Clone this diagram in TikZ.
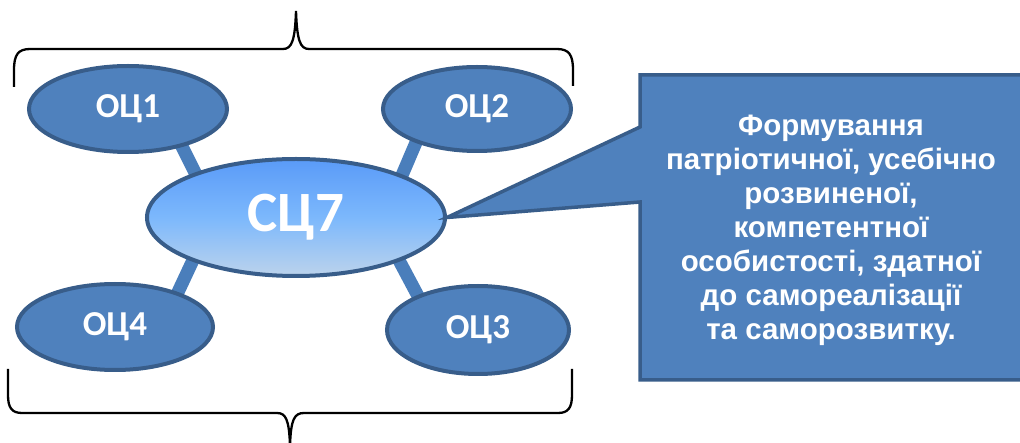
\documentclass[tikz,border=0pt]{standalone}
\usepackage{fontspec}
\setmainfont{Liberation Sans}
\newfontfamily\carl{Carlito}
\usetikzlibrary{shapes.geometric,backgrounds}
\definecolor{fillblue}{HTML}{4F81BD}
\definecolor{edgeblue}{HTML}{385D8A}
\definecolor{barblue}{HTML}{4A7EBB}
\definecolor{ctop}{HTML}{5A9BF8}
\definecolor{cmid}{HTML}{7CB8FC}
\definecolor{cbot}{HTML}{BCD3EC}
\tikzset{
  sat/.style={ellipse, draw=edgeblue, fill=fillblue, line width=4pt, inner sep=0pt,
    text=white, font=\carl\bfseries\fontsize{35}{40}\selectfont},
  centre/.style={ellipse, draw=edgeblue, line width=4pt, inner sep=0pt,
    top color=ctop, bottom color=cbot, middle color=cmid,
    text=white, font=\carl\bfseries\fontsize{57}{60}\selectfont},
  bar/.style={draw=barblue, line width=13pt, shorten <=-8pt, shorten >=-8pt},
  brace/.style={draw=black, line width=2.3pt},
  callbox/.style={draw=edgeblue, fill=fillblue, line width=3.5pt, line join=miter},
  calltext/.style={align=center, text=white, font=\bfseries\fontsize{29.5}{34}\selectfont}
}
\begin{document}
\begin{tikzpicture}[x=1pt,y=-1pt]
\useasboundingbox (0,0) rectangle (1020,443);
\clip (0,0) rectangle (1020,443);

\node[centre, minimum width=298pt, minimum height=117pt] (c) at (296,217.5) {СЦ7};
\node[sat, minimum width=198pt, minimum height=86pt] (o1) at (128,109) {ОЦ1};
\node[sat, minimum width=188pt, minimum height=84pt] (o2) at (477,109) {ОЦ2};
\node[sat, minimum width=196pt, minimum height=86pt] (o4) at (115,327) {ОЦ4};
\node[sat, minimum width=182pt, minimum height=88pt] (o3) at (478,330) {ОЦ3};

\begin{scope}[on background layer]
\draw[bar] (o1.-35) -- (c.156);
\draw[bar] (o2.-151) -- (c.22);
\draw[bar] (o4.29) -- (c.203);
\draw[bar] (o3.150) -- (c.-23);
\end{scope}

\coordinate (k1) at (640,127);
\coordinate (k2) at (640,202);
\path[callbox] (1030,75) -- (640,75) -- (k1) -- (c.east) -- (k2) -- (640,380) -- (1030,380) -- cycle;
\node[calltext] (t) at (831,230) {Формування\\патріотичної, усебічно\\розвиненої,\\компетентної\\особистості, здатної\\до самореалізації\\та саморозвитку.};

\coordinate (b1) at (14,87);
\coordinate (b2) at (573,86);
\draw[brace] (b1) -- (14,70) .. controls (14,55) and (18,49) .. (30,49) -- (283,49)
  .. controls (292,49) and (295,40) .. (296,11)
  .. controls (297,40) and (300,49) .. (309,49) -- (557,49)
  .. controls (569,49) and (573,55) .. (573,70) -- (b2);
\coordinate (b3) at (8,369);
\coordinate (b4) at (572,369);
\draw[brace] (b3) -- (8,395) .. controls (8,408) and (12,413) .. (22,413) -- (277,413)
  .. controls (286,413) and (289,420) .. (290,445)
  .. controls (291,420) and (294,413) .. (304,413) -- (558,413)
  .. controls (568,413) and (572,408) .. (572,395) -- (b4);
\end{tikzpicture}
\end{document}
